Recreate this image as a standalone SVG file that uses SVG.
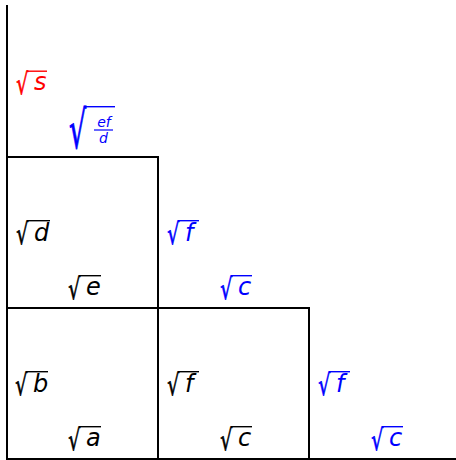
<svg xmlns="http://www.w3.org/2000/svg" width="456" height="460" viewBox="0 0 456 460">
<style>
.ln{stroke:#000;stroke-width:2;fill:none}
.t{font-family:"DejaVu Sans",sans-serif;font-style:italic;font-size:24px}
.fr{font-family:"DejaVu Sans",sans-serif;font-style:italic;font-size:14px;text-anchor:middle}
.r{font-family:"DejaVu Sans",sans-serif;font-size:29px;stroke-width:0.7}
.rb{font-family:"DejaVu Sans",sans-serif;font-size:52px;stroke-width:0.9}
.k{fill:#000}.b{fill:#0000ff}.rd{fill:#ff0000}
.r.k,.rb.k{stroke:#000}.r.b,.rb.b{stroke:#0000ff}.r.rd{stroke:#ff0000}
.ov{stroke-width:1.4}
.ovk{stroke:#000}.ovb{stroke:#0000ff}.ovr{stroke:#ff0000}
</style>
<rect width="456" height="460" fill="#fff"/>
<g id="connectors">
<path class="ln" d="M7,5 V459 H456"/>
<path class="ln" d="M7,157 H158 V459"/>
<path class="ln" d="M7,308 H309 V459"/>
</g>
<g id="n-s"><text class="r rd" transform="translate(16.3,94.1) scale(0.65,1)">√</text><line class="ov ovr" x1="27" y1="71.2" x2="47" y2="71.2"/><text class="t rd" x="34" y="90">s</text></g>
<g id="n-efd"><text class="rb b" transform="translate(69,148.4) scale(0.52,1)">√</text><line class="ov ovb" x1="85" y1="106.7" x2="115" y2="106.7"/><text class="fr b" x="104" y="127">ef</text><line class="ov ovb" x1="94" y1="130" x2="113" y2="130" style="stroke-width:1.2"/><text class="fr b" x="103.5" y="143">d</text></g>
<g id="n-d"><text class="r k" transform="translate(16.3,243.6) scale(0.65,1)">√</text><line class="ov ovk" x1="27" y1="220.7" x2="50" y2="220.7"/><text class="t k" x="34" y="241">d</text></g>
<g id="n-f1"><text class="r b" transform="translate(167.3,243.6) scale(0.65,1)">√</text><line class="ov ovb" x1="178" y1="220.7" x2="199" y2="220.7"/><text class="t b" x="185" y="241">f</text></g>
<g id="n-e"><text class="r k" transform="translate(68.3,298.6) scale(0.65,1)">√</text><line class="ov ovk" x1="79" y1="275.7" x2="101" y2="275.7"/><text class="t k" x="86" y="294.5">e</text></g>
<g id="n-c1"><text class="r b" transform="translate(220.3,298.6) scale(0.65,1)">√</text><line class="ov ovb" x1="231" y1="275.7" x2="252" y2="275.7"/><text class="t b" x="238" y="294.5">c</text></g>
<g id="n-b"><text class="r k" transform="translate(15.3,394.6) scale(0.65,1)">√</text><line class="ov ovk" x1="26" y1="371.7" x2="48" y2="371.7"/><text class="t k" x="33" y="392">b</text></g>
<g id="n-f2"><text class="r k" transform="translate(167.3,394.6) scale(0.65,1)">√</text><line class="ov ovk" x1="178" y1="371.7" x2="199" y2="371.7"/><text class="t k" x="185" y="392">f</text></g>
<g id="n-f3"><text class="r b" transform="translate(318.3,394.6) scale(0.65,1)">√</text><line class="ov ovb" x1="329" y1="371.7" x2="350" y2="371.7"/><text class="t b" x="336" y="392">f</text></g>
<g id="n-a"><text class="r k" transform="translate(68.3,449.6) scale(0.65,1)">√</text><line class="ov ovk" x1="79" y1="426.7" x2="101" y2="426.7"/><text class="t k" x="86" y="445.5">a</text></g>
<g id="n-c2"><text class="r k" transform="translate(220.3,449.6) scale(0.65,1)">√</text><line class="ov ovk" x1="231" y1="426.7" x2="252" y2="426.7"/><text class="t k" x="238" y="445.5">c</text></g>
<g id="n-c3"><text class="r b" transform="translate(371.3,449.6) scale(0.65,1)">√</text><line class="ov ovb" x1="382" y1="426.7" x2="403" y2="426.7"/><text class="t b" x="389" y="445.5">c</text></g>
</svg>
